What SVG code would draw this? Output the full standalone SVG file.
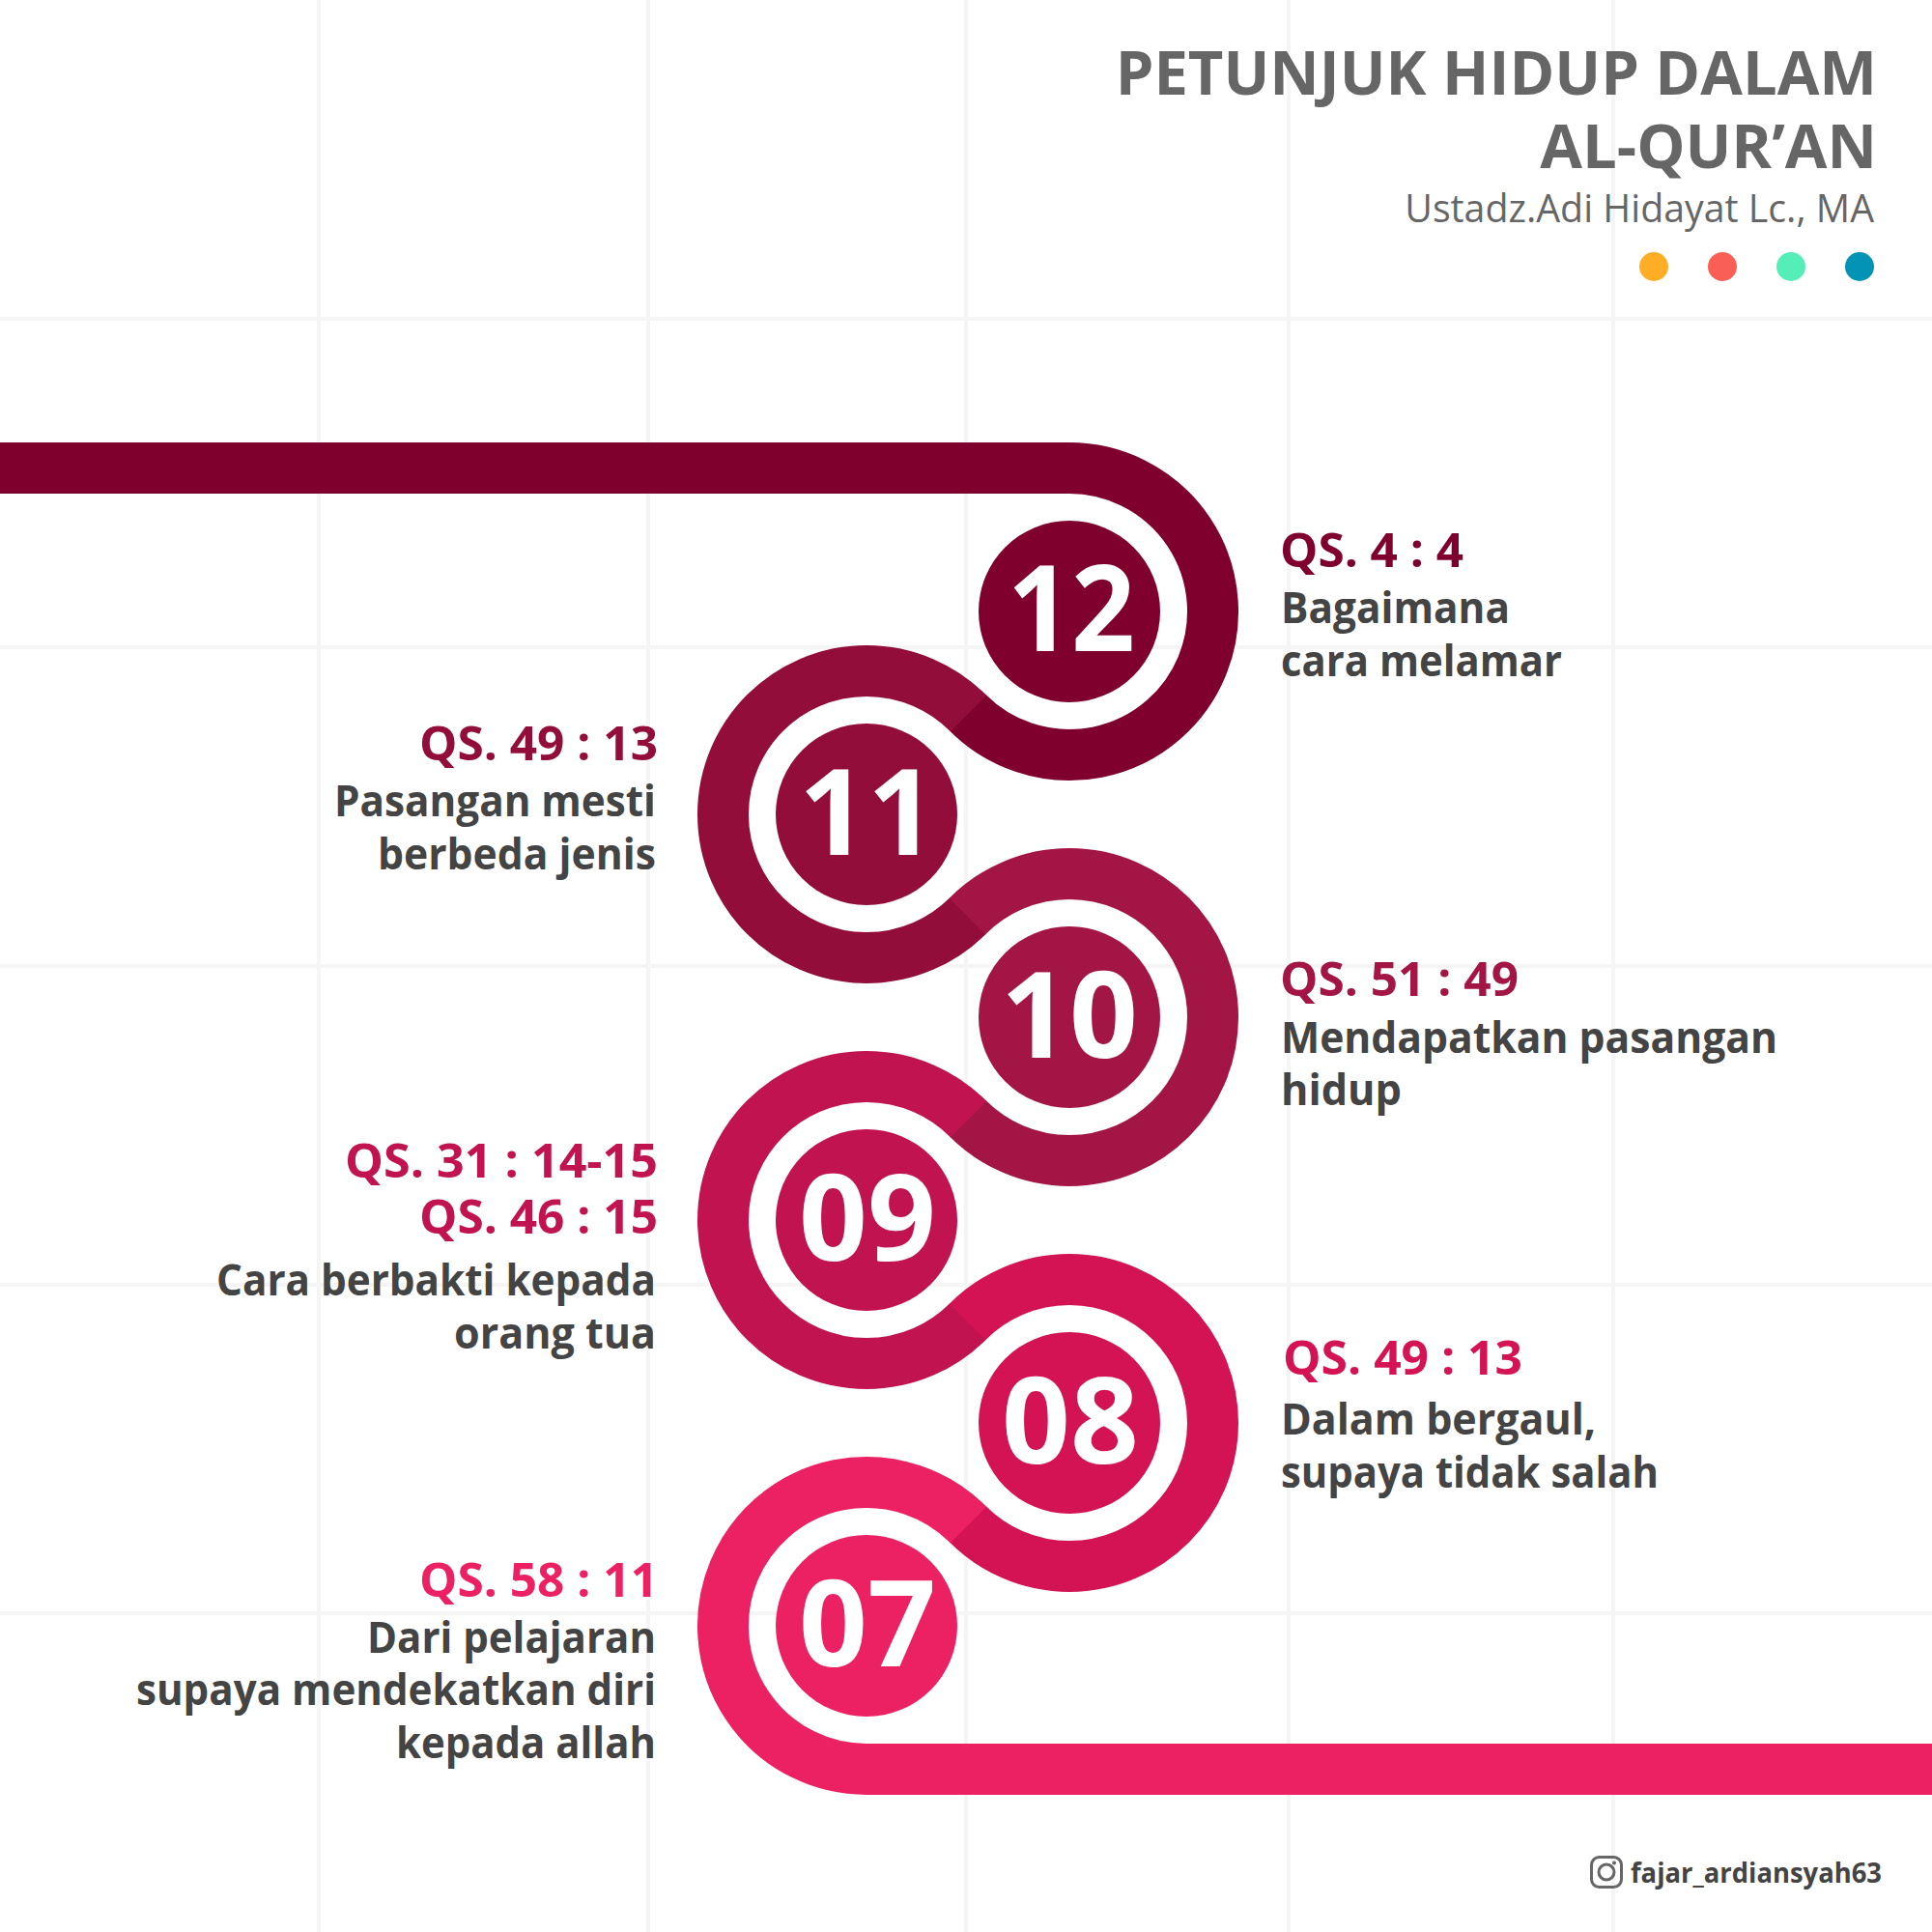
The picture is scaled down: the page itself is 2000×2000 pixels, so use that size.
<svg xmlns="http://www.w3.org/2000/svg" width="2000" height="2000" viewBox="0 0 2000 2000">
<style>
text{font-family:"Open Sans","Noto Sans","Liberation Sans",sans-serif;font-weight:700}
.g{stroke:#f5f5f5;stroke-width:4;fill:none}
.b{fill:none;stroke-width:53}
.t{font-size:44px;fill:#444}
.q{font-size:48px}
.e{text-anchor:end}
.n{font-size:124px;fill:#fff;text-anchor:middle}
.c12{stroke:#7f002d}.c11{stroke:#930d3a}.c10{stroke:#a31545}.c09{stroke:#c0134f}.c08{stroke:#d31353}.c07{stroke:#ec2164}
.f12{fill:#7f002d}.f11{fill:#930d3a}.f10{fill:#a31545}.f09{fill:#c0134f}.f08{fill:#d31353}.f07{fill:#ec2164}
</style>
<rect width="2000" height="2000" fill="#fff"/>
<g id="grid">
<path class="g" d="M330 0V2000M671 0V2000M1000 0V2000M1334 0V2000M1670 0V2000M0 330H2000M0 670H2000M0 1000H2000M0 1330H2000M0 1670H2000"/>
</g>
<g id="header">
<text x="1943" y="98" class="e" font-size="63.300" fill="#666">PETUNJUK HIDUP DALAM</text>
<text x="1943" y="174" class="e" font-size="63.300" fill="#666">AL-QUR’AN</text>
<text x="1940" y="230" class="e" font-size="39.300" fill="#666" style="font-weight:400">Ustadz.Adi Hidayat Lc., MA</text>
<circle cx="1712" cy="276" r="15" fill="#ffae26"/>
<circle cx="1783" cy="276" r="15" fill="#f95f55"/>
<circle cx="1854" cy="276" r="15" fill="#55eeb8"/>
<circle cx="1925" cy="276" r="15" fill="#0393b7"/>
</g>
<g id="connectors">
<path class="b c12" d="M0 484.500H1107A148.500 148.500 0 1 1 1002 738"/>
<path class="b c11" d="M1002.500 738.500L1002 738A148.500 148.500 0 1 0 1002 948"/>
<path class="b c10" d="M1001.500 948.500L1002 948A148.500 148.500 0 1 1 1002 1158"/>
<path class="b c09" d="M1002.500 1158.500L1002 1158A148.500 148.500 0 1 0 1002 1368"/>
<path class="b c08" d="M1001.500 1368.500L1002 1368A148.500 148.500 0 1 1 1002 1578"/>
<path class="b c07" d="M1002.500 1578.500L1002 1578A148.500 148.500 0 1 0 897 1831.500H2000"/>
</g>
<g id="node-12">
<circle class="f12" cx="1107" cy="633" r="94"/>
<text class="n" x="1109" y="674" textLength="132" lengthAdjust="spacingAndGlyphs">12</text>
<text class="q f12" x="1325" y="587" textLength="190" lengthAdjust="spacingAndGlyphs">QS. 4 : 4</text>
<text class="t" x="1326" y="645" textLength="237" lengthAdjust="spacingAndGlyphs">Bagaimana</text>
<text class="t" x="1326" y="700" textLength="291" lengthAdjust="spacingAndGlyphs">cara melamar</text>
</g>
<g id="node-11">
<circle class="f11" cx="897" cy="843" r="94"/>
<text class="n" x="898" y="885">11</text>
<text class="q f11 e" x="681" y="787" textLength="247" lengthAdjust="spacingAndGlyphs">QS. 49 : 13</text>
<text class="t e" x="679" y="845" textLength="333" lengthAdjust="spacingAndGlyphs">Pasangan mesti</text>
<text class="t e" x="679" y="900" textLength="288" lengthAdjust="spacingAndGlyphs">berbeda jenis</text>
</g>
<g id="node-10">
<circle class="f10" cx="1107" cy="1053" r="94"/>
<text class="n" x="1107" y="1095">10</text>
<text class="q f10" x="1325" y="1031" textLength="247" lengthAdjust="spacingAndGlyphs">QS. 51 : 49</text>
<text class="t" x="1326" y="1090" textLength="514" lengthAdjust="spacingAndGlyphs">Mendapatkan pasangan</text>
<text class="t" x="1326" y="1144" textLength="125" lengthAdjust="spacingAndGlyphs">hidup</text>
</g>
<g id="node-09">
<circle class="f09" cx="897" cy="1263" r="94"/>
<text class="n" x="898" y="1305">09</text>
<text class="q f09 e" x="681" y="1219" textLength="324" lengthAdjust="spacingAndGlyphs">QS. 31 : 14-15</text>
<text class="q f09 e" x="681" y="1277" textLength="247" lengthAdjust="spacingAndGlyphs">QS. 46 : 15</text>
<text class="t e" x="679" y="1341" textLength="455" lengthAdjust="spacingAndGlyphs">Cara berbakti kepada</text>
<text class="t e" x="679" y="1396" textLength="209" lengthAdjust="spacingAndGlyphs">orang tua</text>
</g>
<g id="node-08">
<circle class="f08" cx="1107" cy="1473" r="94"/>
<text class="n" x="1108" y="1515">08</text>
<text class="q f08" x="1328" y="1423" textLength="248" lengthAdjust="spacingAndGlyphs">QS. 49 : 13</text>
<text class="t" x="1326" y="1485" textLength="326" lengthAdjust="spacingAndGlyphs">Dalam bergaul,</text>
<text class="t" x="1326" y="1540" textLength="391" lengthAdjust="spacingAndGlyphs">supaya tidak salah</text>
</g>
<g id="node-07">
<circle class="f07" cx="897" cy="1683" r="94"/>
<text class="n" x="898" y="1725">07</text>
<text class="q f07 e" x="681" y="1653" textLength="247" lengthAdjust="spacingAndGlyphs">QS. 58 : 11</text>
<text class="t e" x="679" y="1711" textLength="299" lengthAdjust="spacingAndGlyphs">Dari pelajaran</text>
<text class="t e" x="679" y="1765" textLength="538" lengthAdjust="spacingAndGlyphs">supaya mendekatkan diri</text>
<text class="t e" x="679" y="1820" textLength="269" lengthAdjust="spacingAndGlyphs">kepada allah</text>
</g>
<g id="credit">
<rect x="1647.500" y="1922.500" width="31" height="31" rx="8" fill="none" stroke="#666" stroke-width="3"/>
<circle cx="1663" cy="1938" r="8" fill="none" stroke="#666" stroke-width="3"/>
<circle cx="1671" cy="1928.500" r="2" fill="#666"/>
<text x="1688" y="1949" font-size="29" fill="#444" textLength="260" lengthAdjust="spacingAndGlyphs">fajar_ardiansyah63</text>
</g>
</svg>
